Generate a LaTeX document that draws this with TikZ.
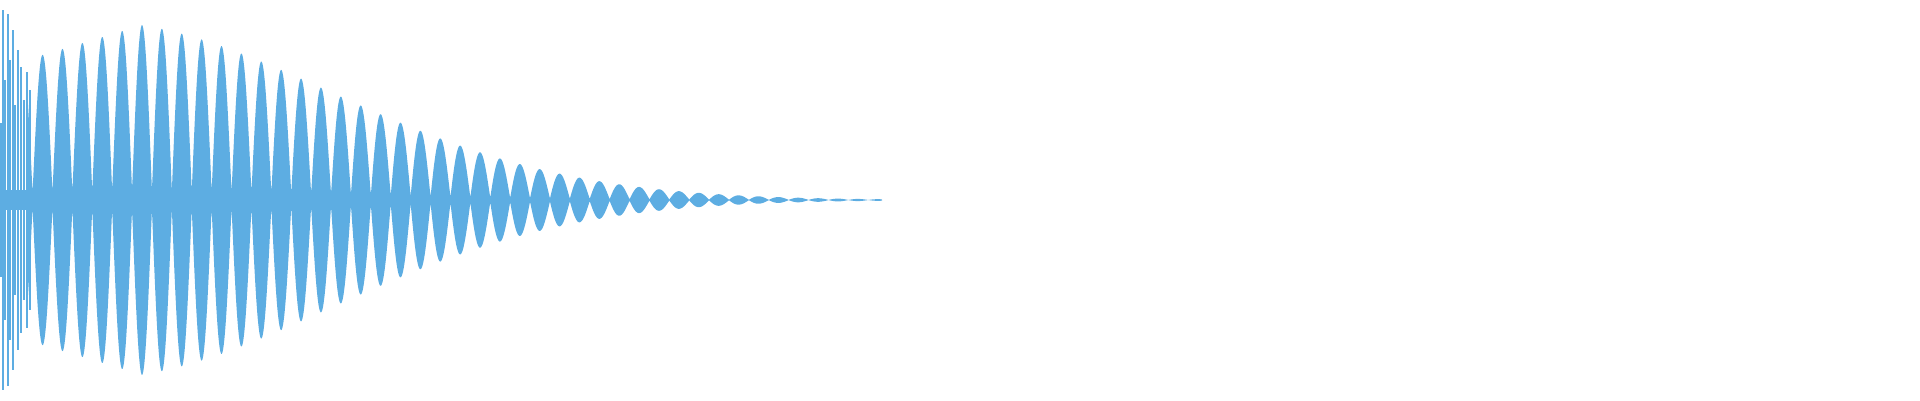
\documentclass[tikz,border=0pt]{standalone}
\definecolor{wavec}{RGB}{93,173,226}
\tikzset{wave/.style={fill=wavec},
 declare function={tt(\x)=max(0,(\x-142)/323);
   env(\x)=175*exp(-(0.9*tt(\x)*tt(\x)+0.3*tt(\x)))-0.3*max(0,142-\x);
   wv(\x)=env(\x)*(0.05+0.95*abs(sin(9.0452*(\x-132.05))));}}
\begin{document}
\begin{tikzpicture}[x=1pt,y=1pt]
\useasboundingbox (0,-200) rectangle (1920,200);
\fill[wave] plot[domain=28:882,samples=1800] (\x,{wv(\x)})
 -- plot[domain=882:28,samples=1800] (\x,{-wv(\x)}) -- cycle;
\fill[wave] (0,-10) rectangle (30,10);
\foreach \p/\h in {1/77,3/190,5/120,8/186,10/140,13/170,15/95,18/150,21/133,24/100,27/128,30/110}{
  \fill[wave] (\p-0.8,-\h) rectangle (\p+0.8,\h);
}
\end{tikzpicture}
\end{document}
